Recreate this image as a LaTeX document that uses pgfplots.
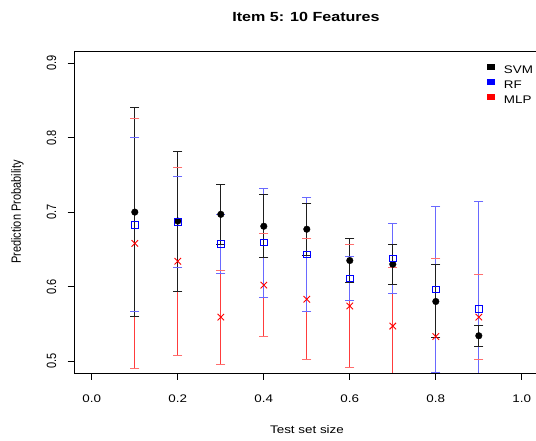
\documentclass[border=0pt]{standalone}
\usepackage{fontspec}
\setmainfont{Liberation Sans}
\usepackage{graphicx}
\usepackage{pgfplots}
\pgfplotsset{compat=1.18}
\usepackage{pgfplotstable}
\newcommand{\sx}[1]{\scalebox{1.117}[0.919]{#1}}
\newcommand{\sy}[1]{\scalebox{0.919}[1.117]{#1}}
\definecolor{mlpline}{RGB}{255,60,60}
\definecolor{mlpcap}{RGB}{255,110,110}
\definecolor{rfline}{RGB}{105,105,255}
\definecolor{svmline}{RGB}{30,30,30}

\pgfplotstableread{
x   svm   svme  rf    rfe   mlp   mlpe
0.1 0.700 0.140 0.683 0.117 0.658 0.168
0.2 0.688 0.094 0.687 0.061 0.634 0.126
0.3 0.697 0.040 0.657 0.040 0.559 0.063
0.4 0.681 0.042 0.659 0.073 0.602 0.069
0.5 0.677 0.035 0.643 0.077 0.583 0.081
0.6 0.635 0.029 0.611 0.030 0.574 0.083
0.7 0.630 0.027 0.638 0.047 0.547 0.078
0.8 0.580 0.049 0.596 0.111 0.533 0.105
0.9 0.534 0.014 0.570 0.144 0.559 0.057
}\data

\begin{document}
\begin{tikzpicture}
\begin{axis}[name=ax, scale only axis, width=461.4pt, height=321.8pt,
  xmin=-0.04, xmax=1.033, ymin=0.484, ymax=0.916,
  axis line style={draw=none},
  tick align=outside, tick pos=left, major tick length=7pt,
  tick style={black, line width=0.8pt},
  xtick={0,0.2,0.4,0.6,0.8,1.0},
  xticklabels={\sx{0.0},\sx{0.2},\sx{0.4},\sx{0.6},\sx{0.8},\sx{1.0}},
  ytick={0.5,0.6,0.7,0.8,0.9},
  yticklabels={\sy{0.5},\sy{0.6},\sy{0.7},\sy{0.8},\sy{0.9}},
  xticklabel style={font=\fontsize{12}{14}\selectfont, anchor=center, yshift=-19pt},
  yticklabel style={font=\fontsize{12}{14}\selectfont, anchor=center, xshift=-16pt, rotate=90},
  legend cell align=left,
  legend style={at={(rel axis cs:0.8932,0.962)}, anchor=north west, draw=none, fill=none,
    inner sep=0pt, row sep=4.1pt, column sep=9.9pt,
    font=\fontsize{12}{14}\selectfont, nodes={inner sep=0pt}},
]
% error bar stems (no caps)
\addplot[forget plot, draw=none, mark=none,
  error bars/.cd, y dir=both, y explicit, error mark=none,
  error bar style={line width=1.1pt, mlpline}]
  table[x=x, y=mlp, y error=mlpe]{\data};
\addplot[forget plot, draw=none, mark=none,
  error bars/.cd, y dir=both, y explicit, error mark=none,
  error bar style={line width=1.1pt, rfline}]
  table[x=x, y=rf, y error=rfe]{\data};
\addplot[forget plot, draw=none, mark=none,
  error bars/.cd, y dir=both, y explicit, error mark=none,
  error bar style={line width=1.1pt, svmline}]
  table[x=x, y=svm, y error=svme]{\data};
% caps
\addplot[forget plot, only marks, mark=-, mark size=4.5pt, mlpcap, mark options={line width=1pt}]
  table[x=x, y expr=\thisrow{mlp}+\thisrow{mlpe}]{\data};
\addplot[forget plot, only marks, mark=-, mark size=4.5pt, mlpcap, mark options={line width=1pt}]
  table[x=x, y expr=\thisrow{mlp}-\thisrow{mlpe}]{\data};
\addplot[forget plot, only marks, mark=-, mark size=4.5pt, rfline, mark options={line width=1pt}]
  table[x=x, y expr=\thisrow{rf}+\thisrow{rfe}]{\data};
\addplot[forget plot, only marks, mark=-, mark size=4.5pt, rfline, mark options={line width=1pt}]
  table[x=x, y expr=\thisrow{rf}-\thisrow{rfe}]{\data};
\addplot[forget plot, only marks, mark=-, mark size=4.5pt, svmline, mark options={line width=1pt}]
  table[x=x, y expr=\thisrow{svm}+\thisrow{svme}]{\data};
\addplot[forget plot, only marks, mark=-, mark size=4.5pt, svmline, mark options={line width=1pt}]
  table[x=x, y expr=\thisrow{svm}-\thisrow{svme}]{\data};
% points
\addplot[forget plot, only marks, mark=*, mark size=3.3pt, black]
  table[x=x, y=svm]{\data};
\addplot[forget plot, only marks, mark=square, mark size=3.3pt, blue, mark options={line width=0.9pt}]
  table[x=x, y=rf]{\data};
\addplot[forget plot, only marks, mark=x, mark size=4.6pt, red, mark options={line width=0.9pt}]
  table[x=x, y=mlp]{\data};
\addlegendimage{legend image code/.code={\fill[black] (0pt,1.45pt) rectangle (6.7pt,6.45pt);}}
\addlegendentry{\sx{SVM}}
\addlegendimage{legend image code/.code={\fill[blue] (0pt,1.45pt) rectangle (6.7pt,6.45pt);}}
\addlegendentry{\sx{RF}}
\addlegendimage{legend image code/.code={\fill[red] (0pt,1.45pt) rectangle (6.7pt,6.45pt);}}
\addlegendentry{\sx{MLP}}
\end{axis}
\draw[black, line width=0.9pt] (ax.south east) -- (ax.south west) -- (ax.north west) -- (ax.north east);
\node[font=\bfseries\fontsize{14.4}{17}\selectfont] at ([xshift=231.4pt, yshift=34pt]ax.north west) {\sx{Item 5: 10 Features}};
\node[font=\fontsize{12}{14}\selectfont] at ([xshift=232.4pt, yshift=-57pt]ax.south west) {\sx{Test set size}};
\node[font=\fontsize{12}{14}\selectfont, rotate=90] at ([xshift=-57.1pt]ax.west) {\sy{Prediction Probability}};
\pgfresetboundingbox
\path ([xshift=-74.6pt, yshift=-68pt]ax.south west) rectangle ([yshift=51.2pt]ax.north east);
\end{tikzpicture}
\end{document}
